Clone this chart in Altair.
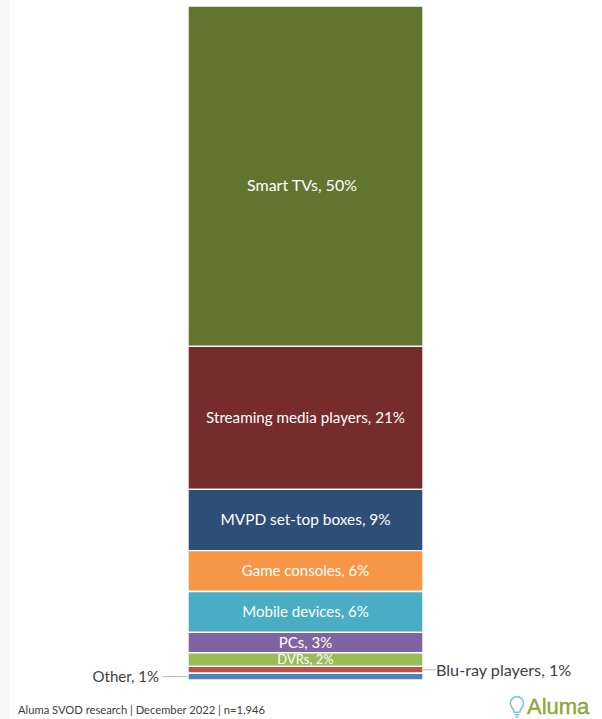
import altair as alt
import pandas as pd

# Share of viewing by device, top of the column to the bottom
devices = ["Smart TVs", "Streaming media players", "MVPD set-top boxes", "Game consoles",
           "Mobile devices", "PCs", "DVRs", "Blu-ray players", "Other"]
shares = [50, 21, 9, 6, 6, 3, 2, 1, 1]
colors = ["#617530", "#762c2c", "#2d4e75", "#f79646", "#4bacc6",
          "#8064a2", "#9bbb59", "#c0504d", "#4f81bd"]
label_sizes = [16, 15.2, 15.4, 15, 15, 15, 13, 16.2, 15]
source_note = "Aluma SVOD research | December 2022 | n=1,946"
brand = "Aluma"

rows = []
top = sum(shares)
for name, share, color, size in zip(devices, shares, colors, label_sizes):
    rows.append({
        "device": name, "share": share, "color": color, "size": size,
        "upper": top, "lower": top - share, "mid": top - share / 2,
        "label": f"{name}, {share}%", "left": 0, "right": 1,
    })
    top -= share
table = pd.DataFrame(rows)

x_scale = alt.Scale(domain=[0, 1], range=[188, 423])
y_scale = alt.Scale(domain=[0, sum(shares)], range=[680, 6])
y_mid = alt.Y("mid:Q", scale=y_scale, axis=None)
size_field = alt.Size("size:Q", scale=None)

W, H = 602, 719

strip = alt.Chart(pd.DataFrame({"a": [0]})).mark_rect(color="#f6f6f6").encode(
    x=alt.value(0), x2=alt.value(9), y=alt.value(0), y2=alt.value(H))

bars = alt.Chart(table).mark_rect(stroke="white", strokeWidth=1.4).encode(
    x=alt.X("left:Q", scale=x_scale, axis=None),
    x2="right:Q",
    y=alt.Y("upper:Q", scale=y_scale, axis=None),
    y2="lower:Q",
    fill=alt.Fill("color:N", scale=None),
)

# The largest segment's label sits a little below its centre
inside_rows = table[~table.device.isin(["Blu-ray players", "Other"])]
top_label = alt.Chart(inside_rows.iloc[:1]).mark_text(
    color="white", font="Lato", align="center", baseline="middle", dy=10
).encode(x=alt.value(302), y=y_mid, text="label:N", size=size_field)
inside = alt.Chart(inside_rows.iloc[1:]).mark_text(
    color="white", font="Lato", align="center", baseline="middle"
).encode(x=alt.value(305.5), y=y_mid, text="label:N", size=size_field)

blu = table[table.device == "Blu-ray players"]
other = table[table.device == "Other"]
grey = "#b5b5b5"

blu_rule = alt.Chart(blu).mark_rule(color=grey, strokeWidth=1).encode(
    x=alt.value(423), x2=alt.value(436), y=y_mid)
other_rule = alt.Chart(other).mark_rule(color=grey, strokeWidth=1).encode(
    x=alt.value(163), x2=alt.value(188), y=y_mid)

blu_text = alt.Chart(blu).mark_text(
    color="#404040", font="Lato", align="left", baseline="middle", dy=1
).encode(x=alt.value(436), y=y_mid, text="label:N", size=size_field)
other_text = alt.Chart(other).mark_text(
    color="#404040", font="Lato", align="right", baseline="middle"
).encode(x=alt.value(159), y=y_mid, text="label:N", size=size_field)

note = alt.Chart(pd.DataFrame({"t": [source_note]})).mark_text(
    color="#404040", font="Lato", fontSize=11.2, align="left", baseline="middle"
).encode(x=alt.value(18), y=alt.value(711), text="t:N")

logo_text = alt.Chart(pd.DataFrame({"t": [brand]})).mark_text(
    color="#8ea63d", stroke="#8ea63d", strokeWidth=0.4, font="Liberation Sans",
    fontSize=22, align="left", baseline="alphabetic"
).encode(x=alt.value(527), y=alt.value(714), text="t:N")

# Light bulb beside the wordmark
bulb_path = "M -0.3 0.45 C -0.3 0.1 -0.7 -0.1 -0.7 -0.5 A 0.7 0.7 0 1 1 0.7 -0.5 C 0.7 -0.1 0.3 0.1 0.3 0.45 Z M -0.25 0.7 L 0.25 0.7 M -0.15 0.95 L 0.15 0.95"
bulb = alt.Chart(pd.DataFrame({"a": [0]})).mark_point(
    shape=bulb_path, filled=False, stroke="#4bacc6", strokeWidth=1.6, size=360
).encode(x=alt.value(517), y=alt.value(708))

chart = alt.layer(
    strip, bars, top_label, inside, blu_rule, other_rule, blu_text, other_text,
    note, logo_text, bulb
).properties(
    width=W, height=H, padding=0, background="white",
    autosize=alt.AutoSizeParams(type="none"),
).configure_view(stroke=None)

chart.save("out.html", embed_options={"renderer": "svg", "actions": False})
